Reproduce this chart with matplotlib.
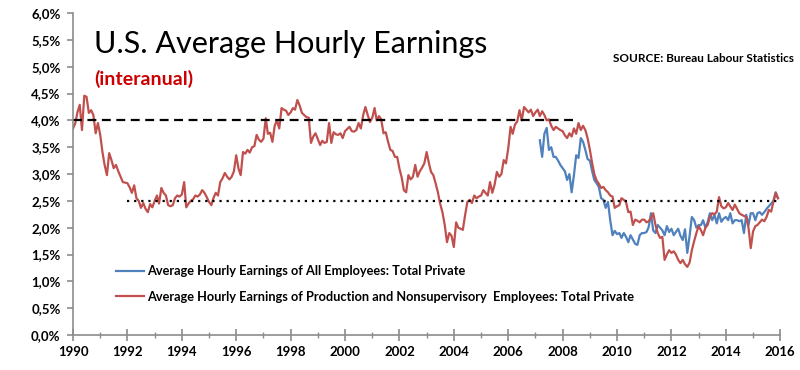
import numpy as np
import pandas as pd
import matplotlib
matplotlib.use("Agg")
import matplotlib.pyplot as plt
import matplotlib.dates as mdates
from matplotlib.ticker import FuncFormatter, MultipleLocator

plt.rcParams['font.family'] = ['Lato', 'DejaVu Sans']

# YoY % change, monthly, Production and Nonsupervisory Employees (Jan 1990 - Dec 2015)
prod_nonsup = [
    3.85, 3.95, 4.15, 4.29, 3.82, 4.46, 4.44, 4.14, 4.19, 4.10, 3.76, 3.95,  # 1990
    3.73, 3.40, 3.17, 2.98, 3.39, 3.26, 3.11, 3.17, 3.05, 2.95, 2.85, 2.84,  # 1991
    2.83, 2.75, 2.65, 2.79, 2.55, 2.50, 2.37, 2.46, 2.35, 2.29, 2.44, 2.38,  # 1992
    2.50, 2.60, 2.45, 2.74, 2.65, 2.60, 2.42, 2.40, 2.42, 2.55, 2.60, 2.58,  # 1993
    2.62, 2.85, 2.38, 2.45, 2.50, 2.53, 2.60, 2.58, 2.62, 2.70, 2.65, 2.57,  # 1994
    2.48, 2.42, 2.55, 2.65, 2.60, 2.85, 2.92, 3.02, 2.95, 2.90, 2.95, 3.05,  # 1995
    3.35, 3.10, 2.98, 3.41, 3.38, 3.45, 3.40, 3.50, 3.52, 3.73, 3.64, 3.60,  # 1996
    3.66, 4.04, 3.75, 3.77, 3.60, 3.90, 4.00, 3.85, 4.23, 4.20, 4.18, 4.10,  # 1997
    4.15, 4.23, 4.20, 4.38, 4.28, 4.14, 4.10, 4.06, 4.05, 3.58, 3.70, 3.76,  # 1998
    3.65, 3.54, 3.62, 3.58, 3.60, 3.95, 3.58, 3.78, 3.74, 3.73, 3.76, 3.67,  # 1999
    3.80, 3.84, 3.88, 3.80, 3.79, 3.82, 3.95, 3.85, 4.10, 4.25, 4.10, 3.97,  # 2000
    4.05, 4.23, 4.00, 4.08, 4.02, 3.76, 3.78, 3.60, 3.45, 3.43, 3.32, 3.32,  # 2001
    3.10, 2.93, 2.70, 2.66, 2.98, 2.90, 2.95, 3.17, 2.95, 3.05, 3.12, 3.20,  # 2002
    3.41, 3.20, 3.04, 2.98, 2.83, 2.66, 2.45, 2.29, 2.05, 1.73, 1.90, 1.85,  # 2003
    1.64, 2.10, 2.00, 1.98, 1.96, 2.24, 2.48, 2.52, 2.46, 2.60, 2.55, 2.58,  # 2004
    2.60, 2.70, 2.65, 2.60, 2.85, 2.65, 2.80, 3.04, 2.95, 3.00, 3.26, 3.20,  # 2005
    3.48, 3.88, 3.75, 3.92, 3.98, 4.19, 4.00, 4.25, 4.20, 4.15, 4.20, 4.08,  # 2006
    4.15, 4.20, 4.08, 4.17, 4.10, 4.00, 4.02, 3.90, 3.82, 3.88, 3.85, 3.82,  # 2007
    3.80, 3.72, 3.67, 3.76, 3.70, 3.85, 3.75, 3.95, 3.82, 3.90, 3.82, 3.67,  # 2008
    3.45, 3.20, 3.00, 2.88, 2.82, 2.74, 2.76, 2.70, 2.66, 2.60, 2.58, 2.37,  # 2009
    2.40, 2.42, 2.55, 2.52, 2.48, 2.29, 2.30, 2.05, 2.15, 2.13, 2.10, 2.15,  # 2010
    2.15, 2.10, 2.12, 2.18, 2.27, 2.05, 1.90, 1.81, 1.83, 1.40, 1.50, 1.58,  # 2011
    1.53, 1.56, 1.50, 1.40, 1.34, 1.40, 1.32, 1.27, 1.35, 1.58, 1.75, 1.90,  # 2012
    2.03, 1.95, 1.86, 2.00, 2.05, 2.20, 2.27, 2.25, 2.30, 2.57, 2.40, 2.36,  # 2013
    2.38, 2.46, 2.40, 2.33, 2.43, 2.35, 2.27, 2.24, 2.22, 2.20, 2.00, 1.62,  # 2014
    1.93, 2.03, 2.05, 2.10, 2.15, 2.12, 2.20, 2.33, 2.30, 2.48, 2.65, 2.55,  # 2015
]

# YoY % change, monthly, All Employees (Mar 2007 - Dec 2015)
all_emp = [
    3.63, 3.32, 3.75, 3.86, 3.45, 3.50, 3.32, 3.32, 3.25, 3.17,  # 2007
    3.11, 3.05, 2.89, 3.00, 2.66, 2.98, 3.35, 3.30, 3.67, 3.60, 3.45, 3.28,  # 2008
    3.25, 3.05, 2.89, 2.83, 2.76, 2.55, 2.52, 2.37, 2.48, 2.14, 1.86, 1.94,  # 2009
    1.88, 1.90, 1.81, 1.90, 1.83, 1.73, 1.86, 1.78, 1.70, 1.68, 1.86, 1.90,  # 2010
    1.90, 1.92, 2.01, 2.27, 1.95, 1.90, 2.05, 2.00, 1.95, 1.86, 2.03, 1.92,  # 2011
    1.98, 1.86, 1.92, 1.98, 1.85, 1.77, 1.97, 1.53, 1.85, 2.20, 2.14, 2.00,  # 2012
    2.05, 2.05, 2.14, 2.00, 2.10, 2.27, 2.14, 2.24, 2.08, 2.27, 2.11, 2.17,  # 2013
    2.20, 2.14, 2.27, 2.08, 2.14, 2.14, 2.12, 2.14, 1.90, 2.24, 2.05, 2.27,  # 2014
    2.27, 2.14, 2.27, 2.29, 2.24, 2.29, 2.35, 2.40, 2.45, 2.50, 2.66, 2.55,  # 2015
]

prod_dates = pd.date_range('1990-01-01', periods=len(prod_nonsup), freq='MS')
all_dates = pd.date_range('2007-03-01', periods=len(all_emp), freq='MS')

# reference levels
upper_level = 4.0
upper_span = ('1990-01-01', '2008-08-01')
lower_level = 2.5
lower_span = ('1992-01-01', '2015-12-01')

red = '#c0504d'
blue = '#4f81bd'

fig = plt.figure(figsize=(8, 3.7), dpi=100)
ax = fig.add_axes([0.0913, 0.0946, 0.884, 0.870])

ax.plot(all_dates, all_emp, color=blue, lw=1.6,
        label='Average Hourly Earnings of All Employees: Total Private')
ax.plot(prod_dates, prod_nonsup, color=red, lw=1.6,
        label='Average Hourly Earnings of Production and Nonsupervisory  Employees: Total Private')
ax.plot(pd.to_datetime(upper_span), [upper_level] * 2, color='black', lw=1.6, ls=(0, (4, 2.5)))
ax.plot(pd.to_datetime(lower_span), [lower_level] * 2, color='black', lw=1.6, ls=(0, (1, 2.2)))

ax.set_ylim(0, 6)
ax.set_xlim(pd.Timestamp('1990-01-01'), pd.Timestamp('2016-01-01'))
ax.yaxis.set_major_locator(MultipleLocator(0.5))
ax.yaxis.set_major_formatter(FuncFormatter(lambda v, p: ('%.1f%%' % v).replace('.', ',')))
ax.xaxis.set_major_locator(mdates.YearLocator(2))
ax.xaxis.set_minor_locator(mdates.YearLocator(1))
ax.xaxis.set_major_formatter(mdates.DateFormatter('%Y'))

for s in ['top', 'right']:
    ax.spines[s].set_visible(False)
for s in ['left', 'bottom']:
    ax.spines[s].set_color('#8c8c8c')
    ax.spines[s].set_linewidth(1.2)
ax.tick_params(axis='y', colors='#8c8c8c', length=4, width=1.2, pad=5,
               labelcolor='black', labelsize=9.5)
ax.tick_params(axis='x', which='major', direction='inout', colors='#8c8c8c',
               length=8, width=1.2, pad=4, labelcolor='black', labelsize=9.5)
ax.tick_params(axis='x', which='minor', direction='inout', colors='#8c8c8c',
               length=4, width=1.0)
for lab in ax.get_xticklabels() + ax.get_yticklabels():
    lab.set_fontweight('bold')

ax.text(0.03, 0.905, 'U.S. Average Hourly Earnings', transform=ax.transAxes,
        fontsize=22, va='center', ha='left')
ax.text(0.03, 0.795, '(interanual)', transform=ax.transAxes, fontsize=14,
        fontweight='bold', color='#cc0000', va='center', ha='left')
ax.text(1.02, 0.86, 'SOURCE: Bureau Labour Statistics', transform=ax.transAxes,
        fontsize=8.5, fontweight='bold', va='center', ha='right')

leg = ax.legend(loc='lower left', bbox_to_anchor=(0.045, 0.065), frameon=False,
                fontsize=9.2, handlelength=2.2, handletextpad=0.2, labelspacing=1.05)
for t in leg.get_texts():
    t.set_fontweight('bold')

fig.savefig('out.png', dpi=100)
